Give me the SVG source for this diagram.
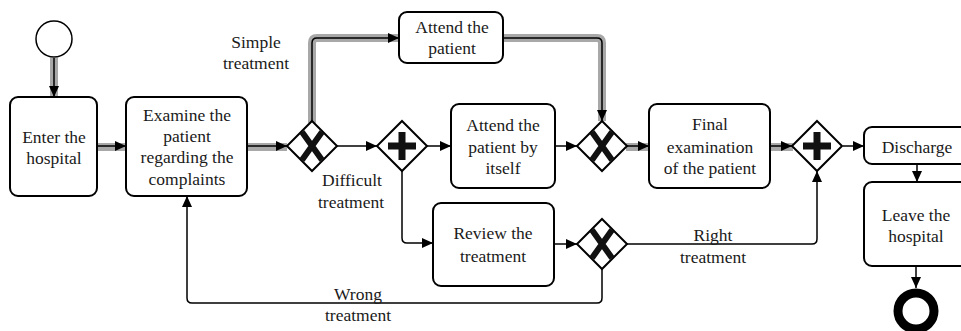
<svg xmlns="http://www.w3.org/2000/svg" width="961" height="331" viewBox="0 0 961 331">
<style>
.box{fill:#fff;stroke:#000;stroke-width:2}
.gw{fill:#fff;stroke:#000;stroke-width:2}
.t{font-family:"Liberation Serif","Times New Roman",serif;font-size:17.5px;fill:#1a1a1a;text-anchor:middle}
.hl{fill:none;stroke:#a8a8a8;stroke-width:8}
.c{fill:none;stroke:#000;stroke-width:1.5}
.xm{stroke:#111;stroke-width:6;stroke-linecap:butt}
.pm{fill:#111}
</style>
<defs>
<marker id="ah" markerUnits="userSpaceOnUse" markerWidth="12" markerHeight="10" refX="11" refY="5" orient="auto">
<path d="M0,0 L11,5 L0,10 Z" fill="#000"/>
</marker>
</defs>
<g id="connectors">
<g id="highlights">
<path class="hl" d="M54,58 V97"/>
<path class="hl" d="M97,147 H126"/>
<path class="hl" d="M247,147 H287"/>
<path class="hl" d="M312,123 V43 Q312,38 317,38 H399"/>
<path class="hl" d="M503,38 H597 Q602,38 602,43 V121"/>
<path class="hl" d="M626,147 H649"/>
<path class="hl" d="M770,147 H793"/>
</g>
<path class="c" d="M54,58 V97" marker-end="url(#ah)"/>
<path class="c" d="M97,146 H126" marker-end="url(#ah)"/>
<path class="c" d="M247,146 H287" marker-end="url(#ah)"/>
<path class="c" d="M312,121 V43 Q312,38 317,38 H399" marker-end="url(#ah)"/>
<path class="c" d="M503,38 H597 Q602,38 602,43 V121" marker-end="url(#ah)"/>
<path class="c" d="M337,146 H377" marker-end="url(#ah)"/>
<path class="c" d="M427,146 H451" marker-end="url(#ah)"/>
<path class="c" d="M555,146 H577" marker-end="url(#ah)"/>
<path class="c" d="M627,146 H649" marker-end="url(#ah)"/>
<path class="c" d="M770,146 H792" marker-end="url(#ah)"/>
<path class="c" d="M843,146 H864" marker-end="url(#ah)"/>
<path class="c" d="M917,164 V182" marker-end="url(#ah)"/>
<path class="c" d="M916,266 V288" marker-end="url(#ah)"/>
<path class="c" d="M402,171 V238 Q402,243 407,243 H433" marker-end="url(#ah)"/>
<path class="c" d="M554,244 H577" marker-end="url(#ah)"/>
<path class="c" d="M627,244 H812 Q817,244 817,239 V171" marker-end="url(#ah)"/>
<path class="c" d="M602,269 V298 Q602,303 597,303 H192 Q187,303 187,298 V196" marker-end="url(#ah)"/>
<text class="t" x="256" y="48">Simple</text>
<text class="t" x="256" y="69">treatment</text>
<text class="t" x="352" y="186">Difficult</text>
<text class="t" x="351" y="208">treatment</text>
<text class="t" x="358" y="300">Wrong</text>
<text class="t" x="358" y="321">treatment</text>
<text class="t" x="713" y="241">Right</text>
<text class="t" x="713" y="263">treatment</text>
</g>
<g id="start"><circle cx="54" cy="39" r="18" fill="#fff" stroke="#000" stroke-width="1.5"/></g>
<g id="enter"><rect class="box" x="10" y="97" width="87" height="99" rx="8"/><text class="t" x="54" y="143">Enter the</text><text class="t" x="54" y="164">hospital</text></g>
<g id="examine"><rect class="box" x="126" y="97" width="121" height="99" rx="8"/><text class="t" x="187" y="121">Examine the</text><text class="t" x="187" y="142">patient</text><text class="t" x="187" y="163">regarding the</text><text class="t" x="187" y="185">complaints</text></g>
<g id="xor1"><path class="gw" d="M312,121 L337,146 L312,171 L287,146 Z"/><path class="xm" d="M302,132 L322,160 M322,132 L302,160"/></g>
<g id="and1"><path class="gw" d="M402,121 L427,146 L402,171 L377,146 Z"/><path class="pm" d="M398.5,132 h7 v10.5 h10.5 v7 h-10.5 v10.5 h-7 v-10.5 h-10.5 v-7 h10.5 Z"/></g>
<g id="attend"><rect class="box" x="399" y="12" width="104" height="51" rx="8"/><text class="t" x="452" y="33">Attend the</text><text class="t" x="452" y="54">patient</text></g>
<g id="attend-itself"><rect class="box" x="451" y="104" width="104" height="84" rx="8"/><text class="t" x="503" y="131">Attend the</text><text class="t" x="503" y="153">patient by</text><text class="t" x="503" y="174">itself</text></g>
<g id="xor2"><path class="gw" d="M602,121 L627,146 L602,171 L577,146 Z"/><path class="xm" d="M592,132 L612,160 M612,132 L592,160"/></g>
<g id="final"><rect class="box" x="649" y="104" width="121" height="84" rx="8"/><text class="t" x="710" y="130">Final</text><text class="t" x="710" y="153">examination</text><text class="t" x="710" y="174">of the patient</text></g>
<g id="and2"><path class="gw" d="M817,121 L842,146 L817,171 L792,146 Z"/><path class="pm" d="M813.5,132 h7 v10.5 h10.5 v7 h-10.5 v10.5 h-7 v-10.5 h-10.5 v-7 h10.5 Z"/></g>
<g id="discharge"><rect class="box" x="864" y="127" width="106" height="37" rx="8"/><text class="t" x="917" y="153">Discharge</text></g>
<g id="leave"><rect class="box" x="864" y="182" width="106" height="84" rx="8"/><text class="t" x="916" y="221">Leave the</text><text class="t" x="916" y="242">hospital</text></g>
<g id="review"><rect class="box" x="433" y="203" width="121" height="83" rx="8"/><text class="t" x="493" y="239">Review the</text><text class="t" x="493" y="262">treatment</text></g>
<g id="xor3"><path class="gw" d="M602,219 L627,244 L602,269 L577,244 Z"/><path class="xm" d="M592,230 L612,258 M612,230 L592,258"/></g>
<g id="end"><circle cx="916" cy="311" r="18" fill="#fff" stroke="#000" stroke-width="9"/></g>
</svg>
